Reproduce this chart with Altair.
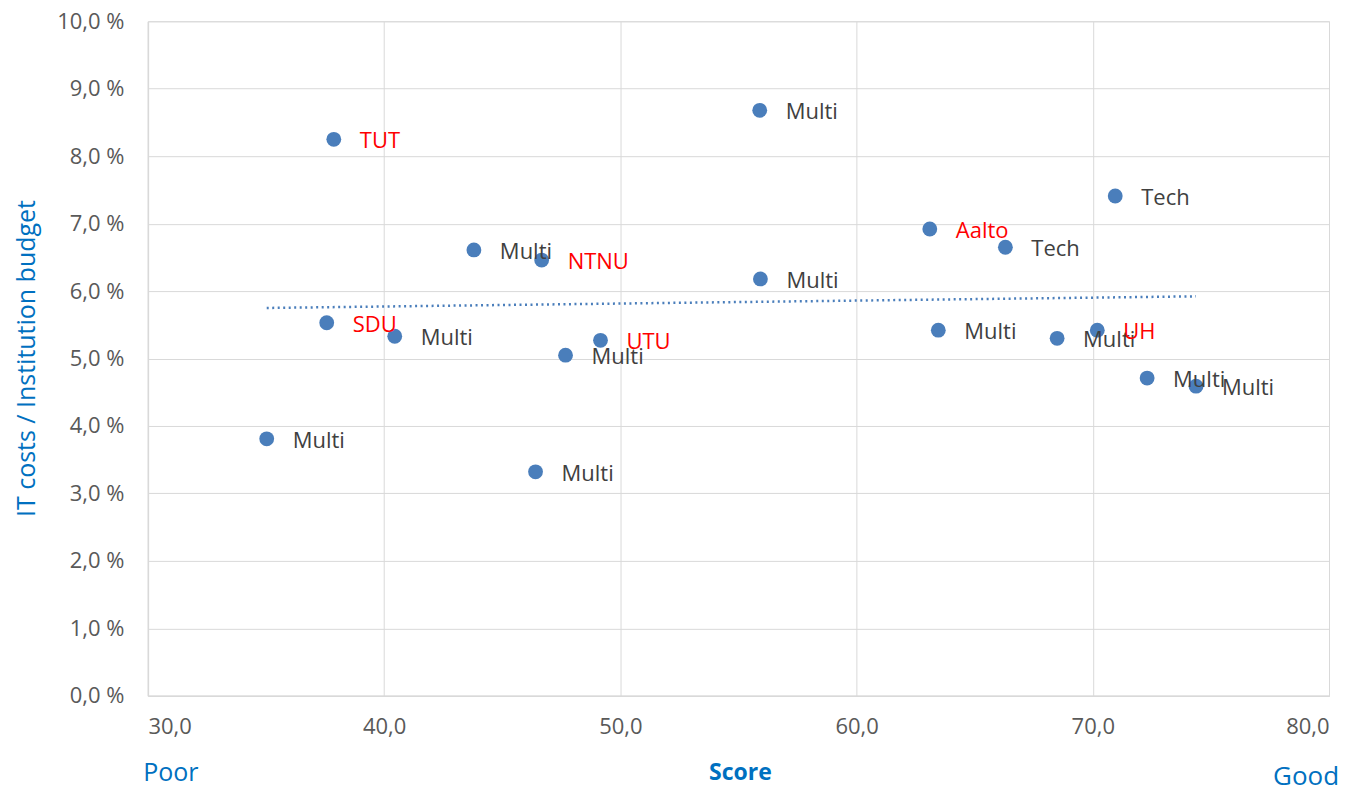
import altair as alt
import pandas as pd

scores = [37.87, 55.9, 70.95, 63.1, 66.3, 43.8, 46.67, 55.93, 37.57, 40.45,
          49.16, 47.68, 63.46, 68.49, 70.19, 72.3, 74.37, 35.03, 46.41]
costs = [8.25, 8.68, 7.41, 6.92, 6.65, 6.61, 6.46, 6.18, 5.53, 5.33,
         5.27, 5.05, 5.42, 5.30, 5.42, 4.71, 4.59, 3.81, 3.32]
labels = ["TUT", "Multi", "Tech", "Aalto", "Tech", "Multi", "NTNU", "Multi", "SDU", "Multi",
          "UTU", "Multi", "Multi", "Multi", "UH", "Multi", "Multi", "Multi", "Multi"]
highlight = ["TUT", "Aalto", "NTNU", "SDU", "UTU", "UH"]

df = pd.DataFrame({"score": scores, "cost": costs, "label": labels})
df["kind"] = ["name" if l in highlight else "type" for l in labels]

FONT = "Open Sans"
BLUE = "#4A7EBB"
TITLE_BLUE = "#0070C0"

x = alt.X("score:Q", scale=alt.Scale(domain=[30, 80], nice=False, zero=False),
          axis=alt.Axis(values=[30, 40, 50, 60, 70, 80], title=None,
                        labelExpr="replace(format(datum.value, '.1f'), '.', ',')",
                        labelFont=FONT, labelFontSize=22, labelColor="#595959",
                        labelPadding=21, ticks=False, domainColor="#D9D9D9",
                        gridColor="#D9D9D9", domainWidth=1.5))
y = alt.Y("cost:Q", scale=alt.Scale(domain=[0, 10], nice=False),
          axis=alt.Axis(values=list(range(0, 11)), title="IT costs / Institution budget",
                        labelExpr="replace(format(datum.value, '.1f'), '.', ',') + ' %'",
                        labelFont=FONT, labelFontSize=22, labelColor="#595959",
                        labelPadding=24, ticks=False, domainColor="#D9D9D9",
                        gridColor="#D9D9D9", domainWidth=1.5,
                        titleFont=FONT, titleFontSize=25, titleColor=TITLE_BLUE,
                        titleFontWeight="normal", titleX=-108, titleY=337))

base = alt.Chart(df)

trend = base.transform_regression("score", "cost").mark_line(
    color=BLUE, strokeDash=[2, 3.5], strokeWidth=2.5
).encode(x=x, y=y)

points = base.mark_circle(size=220, opacity=1, color=BLUE).encode(x=x, y=y)

text = base.mark_text(align="left", baseline="middle", dx=26, dy=2,
                      font=FONT, fontSize=22).encode(
    x=x, y=y, text="label:N",
    color=alt.Color("kind:N", scale=alt.Scale(domain=["name", "type"],
                                              range=["#FF0000", "#404040"]),
                    legend=None))

ann_poor = alt.Chart(pd.DataFrame({"t": ["Poor"]})).mark_text(
    font=FONT, fontSize=25, color=TITLE_BLUE, align="center", baseline="middle"
).encode(text="t:N", x=alt.value(23), y=alt.value(752))
ann_score = alt.Chart(pd.DataFrame({"t": ["Score"]})).mark_text(
    font=FONT, fontSize=23, color=TITLE_BLUE, fontWeight="bold", align="center", baseline="middle"
).encode(text="t:N", x=alt.value(593), y=alt.value(752))
ann_good = alt.Chart(pd.DataFrame({"t": ["Good"]})).mark_text(
    font=FONT, fontSize=26, color=TITLE_BLUE, align="center", baseline="middle"
).encode(text="t:N", x=alt.value(1159), y=alt.value(756))

chart = alt.layer(trend, points, text, ann_poor, ann_score, ann_good).properties(
    width=1182, height=675,
    autosize=alt.AutoSizeParams(type="none"),
    padding={"left": 140, "top": 13, "right": 30, "bottom": 96},
).configure_view(stroke=None).configure(background="white")

chart.save("out.html", embed_options={"renderer": "svg", "actions": False})
